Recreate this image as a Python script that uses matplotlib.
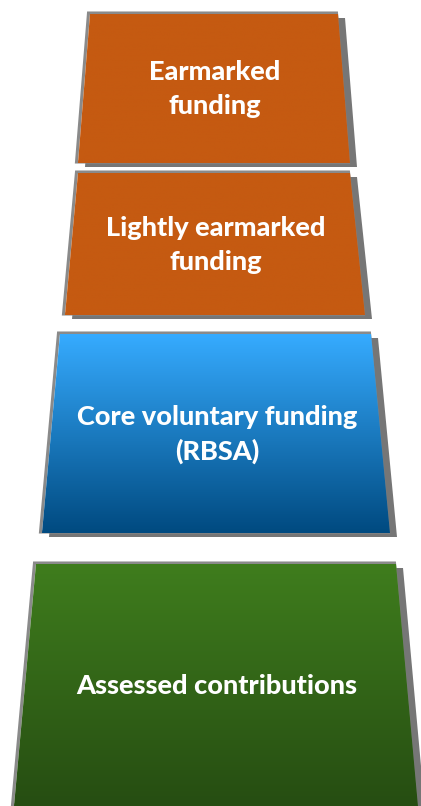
import numpy as np
import matplotlib
matplotlib.use("Agg")
import matplotlib.pyplot as plt
from matplotlib.patches import Polygon
from matplotlib.colors import LinearSegmentedColormap

# funding layers, top to bottom
labels = ["Earmarked\nfunding", "Lightly earmarked\nfunding",
          "Core voluntary funding\n(RBSA)", "Assessed contributions"]
top_y = [14, 173, 334, 564]
bottom_y = [163, 315, 533, 806]
top_left = [90, 78, 60, 36]
top_right = [338, 350, 371, 396]
bottom_left = [78, 65, 42, 14]
bottom_right = [350, 365, 390, 418]

grad_top = ["#C55A11", "#C55A11", "#36ABFF", "#3F7D1D"]
grad_bottom = ["#C55A11", "#C55A11", "#004A80", "#264D12"]

SHADOW = "#767676"
W, H = 421, 806

fig = plt.figure(figsize=(W / 100, H / 100), dpi=100)
ax = fig.add_axes([0, 0, 1, 1])
ax.set_xlim(0, W)
ax.set_ylim(H, 0)
ax.axis("off")

for i, label in enumerate(labels):
    pts = [(top_left[i], top_y[i]), (top_right[i], top_y[i]),
           (bottom_right[i], bottom_y[i]), (bottom_left[i], bottom_y[i])]
    # drop shadow, offset down-right
    shadow = Polygon([(x + 7, y + 4) for x, y in pts], closed=True,
                     facecolor=SHADOW, edgecolor="none", zorder=1)
    ax.add_patch(shadow)
    # thin outline
    outline = Polygon([(x - 1.5, y - 1) for x, y in pts], closed=True,
                      facecolor="none", edgecolor="#8a8a8a", lw=2.2, zorder=2)
    ax.add_patch(outline)
    body = Polygon(pts, closed=True, facecolor="none", edgecolor="none", zorder=3)
    ax.add_patch(body)
    cmap = LinearSegmentedColormap.from_list("g%d" % i, [grad_top[i], grad_bottom[i]])
    grad = np.linspace(0, 1, 256).reshape(-1, 1)
    img = ax.imshow(grad, cmap=cmap, aspect="auto", zorder=3,
                    extent=(min(bottom_left[i], top_left[i]) - 2,
                            max(bottom_right[i], top_right[i]) + 2,
                            bottom_y[i], top_y[i]),
                    origin="upper")
    img.set_clip_path(body)
    cx = (top_left[i] + top_right[i] + bottom_left[i] + bottom_right[i]) / 4
    cy = (top_y[i] + bottom_y[i]) / 2
    ax.text(cx + 1, cy + 1, label, color="white", fontsize=19.5, fontweight=900,
            family="Lato", ha="center", va="center", linespacing=1.5, zorder=4)

ax.set_xlim(0, W)
ax.set_ylim(H, 0)
fig.savefig("out.png", dpi=100, facecolor="white")
